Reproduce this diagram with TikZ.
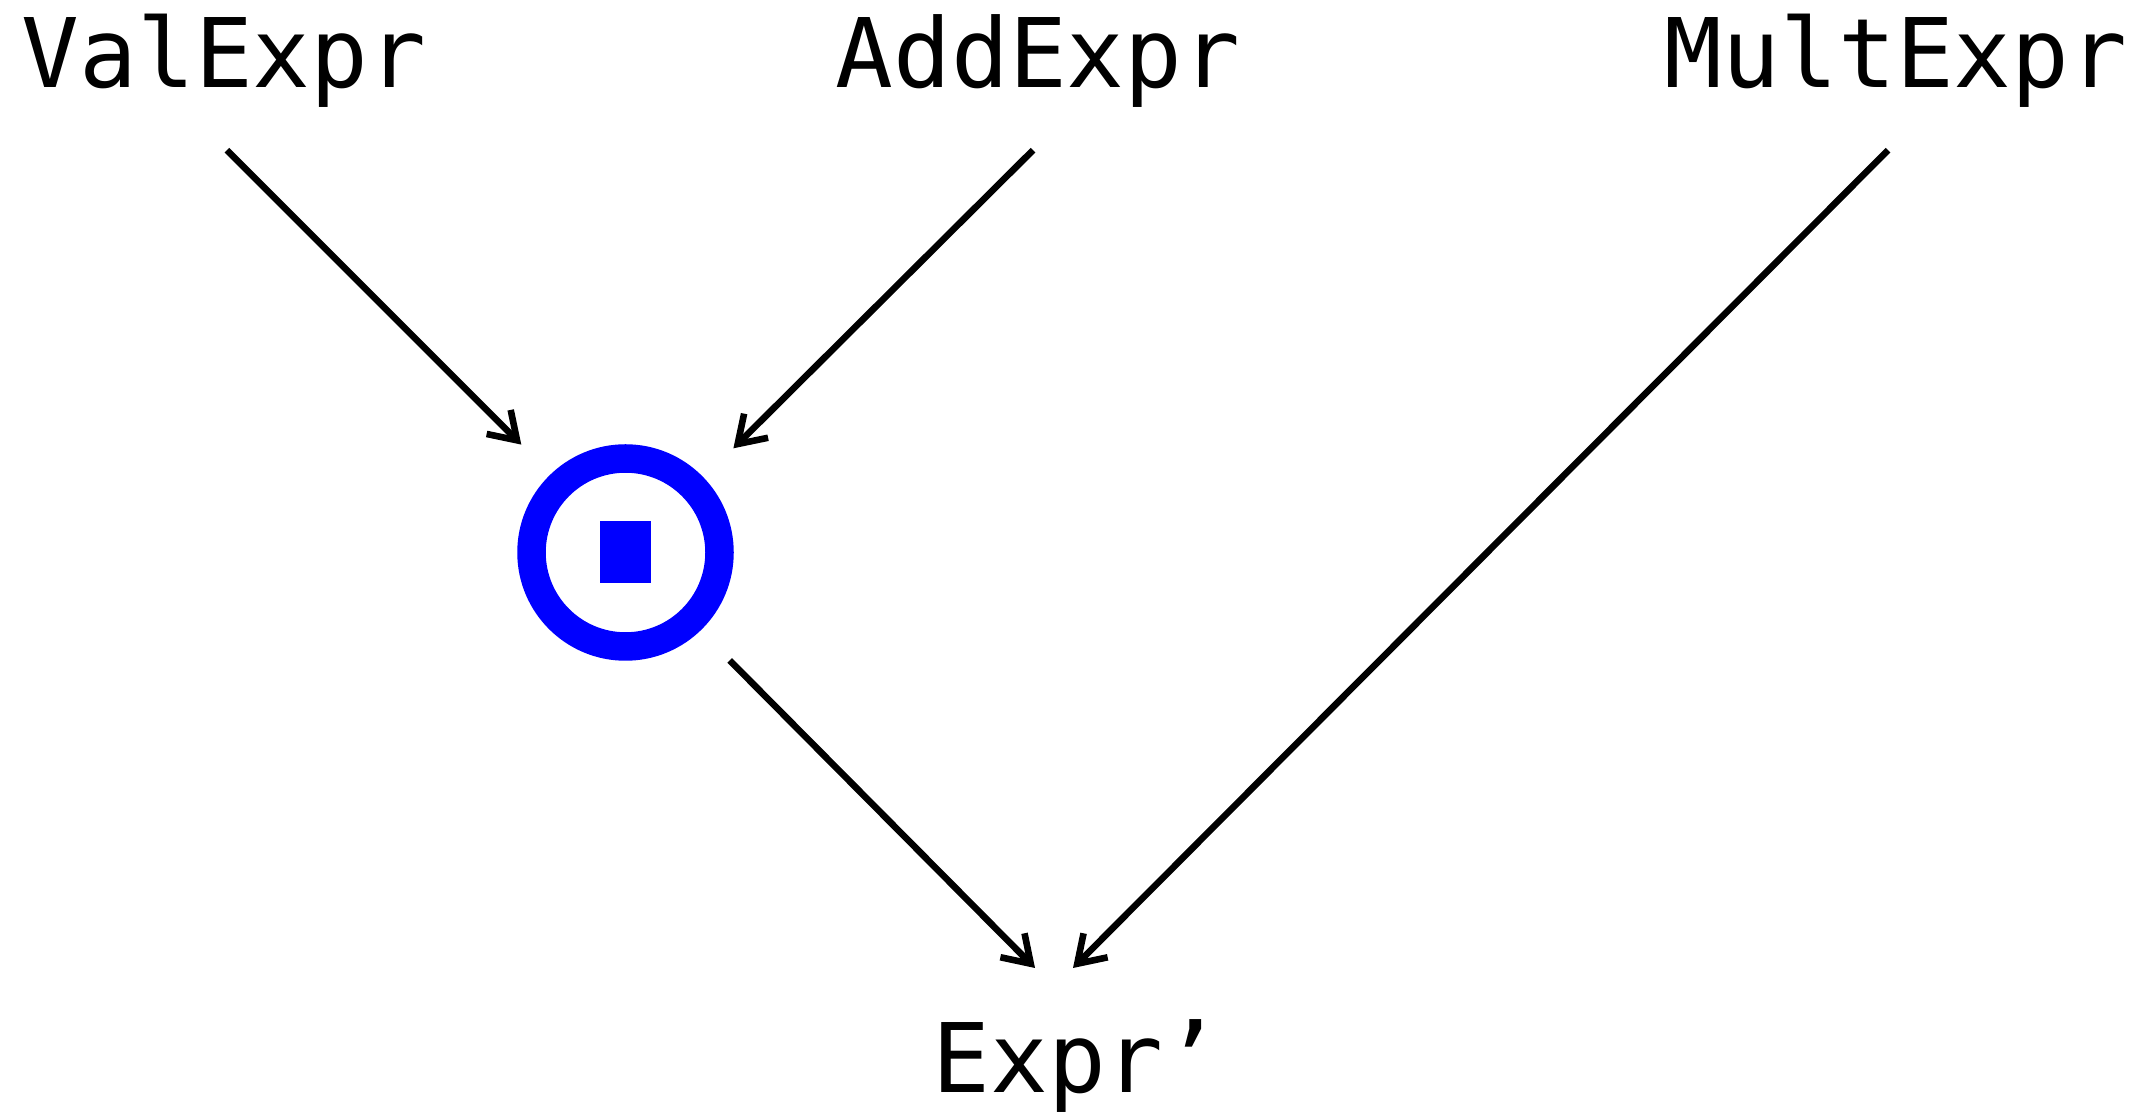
\documentclass[tikz,border=0pt]{standalone}
\usepackage{fontspec}
\setmonofont{DejaVu Sans Mono}
\usepackage{tikz}
\usetikzlibrary{arrows.meta,positioning}
\definecolor{cJoin}{RGB}{0,0,255}

\begin{document}
\begin{tikzpicture}[
  x=1pt,y=1pt,
  term/.style={font=\ttfamily\fontsize{48}{58}\selectfont,inner sep=0pt,outer sep=0pt,anchor=base},
  src/.style={term,text depth=31.5pt},
  dst/.style={term,text height=62.5pt,text depth=0pt},
  junction/.style={circle,draw=cJoin,line width=14.25pt,minimum size=94pt,
                   inner sep=0pt,outer sep=28pt,text=cJoin},
  link/.style={-{Straight Barb[length=13pt,width=17pt]},line width=3.3pt},
]
\useasboundingbox (0,0) rectangle (1070,556.5);

% the three alternatives on top
\node[src] (val)  at (112,512.9) {ValExpr};
\node[src] (add)  at (519,512.9) {AddExpr};
\node[src] (mult) at (948,512.9) {MultExpr};

% merge point and result
\node[junction] (jn) at (312.75,280.25) {\rule{25.5pt}{31pt}};
\node[dst] (expr) at (538.5,10) {Expr’};

\draw[link] ([xshift=1.5pt]val.south)  -- (jn.134);
\draw[link] ([xshift=-2.5pt]add.south) -- (jn.44);
\draw[link] (jn.-46) -- ([xshift=-21pt]expr.north);
\draw[link] ([xshift=-4pt]mult.south)  -- ([xshift=-2pt]expr.north);
\end{tikzpicture}
\end{document}
